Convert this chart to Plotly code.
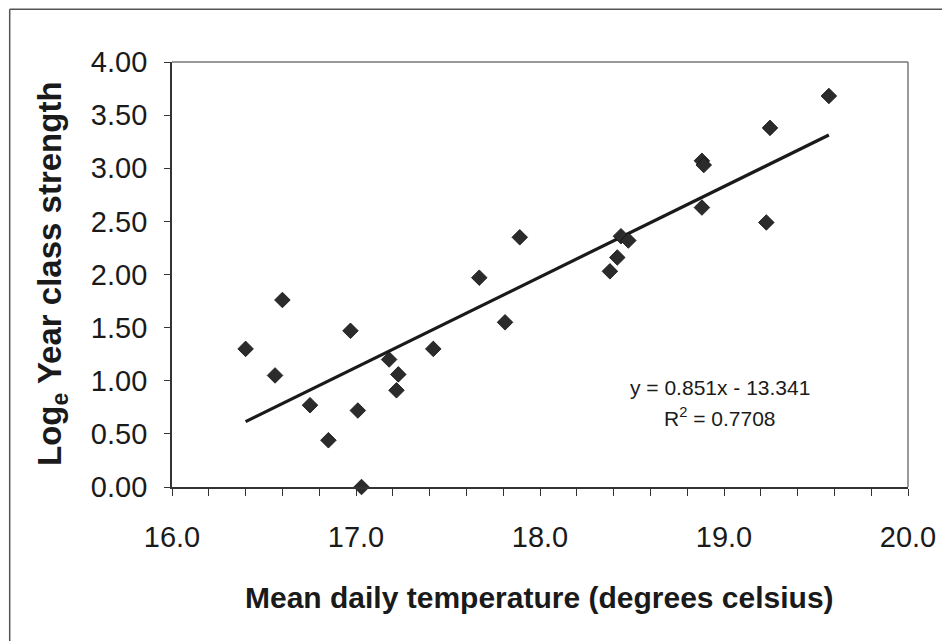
import plotly.graph_objects as go

# Data
temperature = [16.40, 16.60, 16.56, 16.75, 16.85, 16.97, 17.01, 17.03, 17.18, 17.23,
               17.22, 17.42, 17.67, 17.81, 17.89, 18.38, 18.42, 18.44, 18.48, 18.88,
               18.88, 18.89, 19.23, 19.25, 19.57]
log_strength = [1.30, 1.76, 1.05, 0.77, 0.44, 1.47, 0.72, 0.00, 1.20, 1.06,
                0.91, 1.30, 1.97, 1.55, 2.35, 2.03, 2.16, 2.36, 2.32, 2.63,
                3.07, 3.03, 2.49, 3.38, 3.68]
slope = 0.851
intercept = -13.341
r_squared = 0.7708

x_tick_vals = [16.0, 17.0, 18.0, 19.0, 20.0]
x_tick_text = ["16.0", "17.0", "18.0", "19.0", "20.0"]
y_tick_vals = [0.0, 0.5, 1.0, 1.5, 2.0, 2.5, 3.0, 3.5, 4.0]
y_tick_text = ["0.00", "0.50", "1.00", "1.50", "2.00", "2.50", "3.00", "3.50", "4.00"]

FONT = "Liberation Sans, Arial, sans-serif"

fit_x = [min(temperature), max(temperature)]
fit_y = [slope * v + intercept for v in fit_x]

fig = go.Figure()
fig.add_trace(go.Scatter(
    x=fit_x, y=fit_y, mode="lines",
    line=dict(color="#1a1a1a", width=3.2),
    showlegend=False, hoverinfo="skip"))
fig.add_trace(go.Scatter(
    x=temperature, y=log_strength, mode="markers",
    marker=dict(symbol="diamond", size=12, color="#2b2b2b",
                line=dict(color="#111111", width=0.8)),
    cliponaxis=False, showlegend=False))

OFF = 8  # page body margin
W, H = 950 - OFF, 641 - OFF
L, R, T, B = 172.3 - OFF, 908.3 - OFF, 61.7 - OFF, 486.7 - OFF
pw, ph = R - L, B - T

def px(x):
    return (x - OFF - L) / pw

def py(y):
    return (B - (y - OFF)) / ph

fig.update_layout(
    width=W, height=H,
    margin=dict(l=L, r=W - R, t=T, b=H - B, pad=0),
    paper_bgcolor="white", plot_bgcolor="white",
    font=dict(family=FONT, color="#1a1a1a"),
    xaxis=dict(range=[16, 20], tickvals=x_tick_vals, ticktext=x_tick_text,
               ticks="outside", ticklen=7, tickwidth=1.2, tickcolor="#333",
               minor=dict(dtick=0.2, tick0=16, ticks="outside", ticklen=7,
                          tickwidth=1.2, tickcolor="#333", showgrid=False),
               showline=True, linecolor="#333", linewidth=1.8,
               showgrid=False, zeroline=False,
               tickfont=dict(size=29, family=FONT, color="#1a1a1a"),
               ticklabelstandoff=16),
    yaxis=dict(range=[0, 4], tickvals=y_tick_vals, ticktext=y_tick_text,
               ticks="outside", ticklen=6, tickwidth=1.2, tickcolor="#333",
               showline=True, linecolor="#333", linewidth=1.8,
               showgrid=False, zeroline=False,
               tickfont=dict(size=29, family=FONT, color="#1a1a1a"),
               ticklabelstandoff=11),
    shapes=[
        # plot frame top and right
        dict(type="line", xref="paper", yref="paper", x0=0, x1=1, y0=1, y1=1,
             line=dict(color="#777", width=1.5)),
        dict(type="line", xref="paper", yref="paper", x0=1, x1=1, y0=0, y1=1,
             line=dict(color="#777", width=1.5)),
        # outer chart frame
        dict(type="line", xref="paper", yref="paper", x0=px(10), x1=px(950),
             y0=py(9), y1=py(9), line=dict(color="#555", width=1.5)),
        dict(type="line", xref="paper", yref="paper", x0=px(10), x1=px(10),
             y0=py(9), y1=py(641), line=dict(color="#555", width=1.5)),
    ],
    annotations=[
        dict(text="<b>Mean daily temperature (degrees celsius)</b>",
             xref="paper", yref="paper", x=px(540), y=py(597),
             showarrow=False, font=dict(size=30, family=FONT, color="#1a1a1a"),
             xanchor="center", yanchor="middle"),
        dict(text="<b>Log<sub>e</sub> Year class strength</b>",
             xref="paper", yref="paper", x=px(53), y=py(273),
             showarrow=False, textangle=-90,
             font=dict(size=33, family=FONT, color="#1a1a1a"),
             xanchor="center", yanchor="middle"),
        dict(text=f"y = {slope}x - {abs(intercept)}",
             x=18.98, y=0.94, xref="x", yref="y", showarrow=False,
             font=dict(size=21, family=FONT, color="#1a1a1a"),
             xanchor="center", yanchor="middle"),
        dict(text=f"R<sup>2</sup> = {r_squared}",
             x=18.98, y=0.66, xref="x", yref="y", showarrow=False,
             font=dict(size=21, family=FONT, color="#1a1a1a"),
             xanchor="center", yanchor="middle"),
    ],
)

fig.write_html("out.html")
